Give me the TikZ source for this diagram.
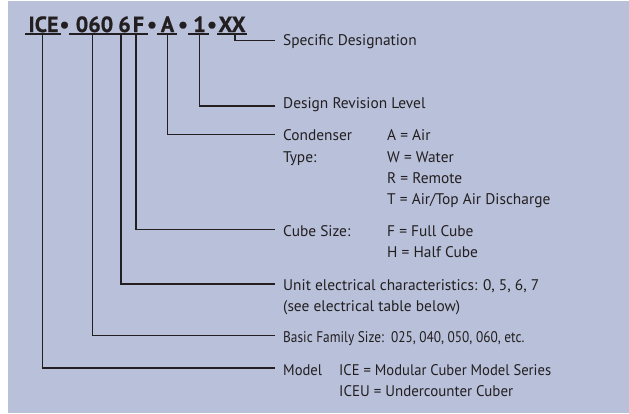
\documentclass[tikz,border=0pt]{standalone}
\usepackage{fontspec}
\setmainfont{PT Sans}
\newfontfamily\ttlfont[FakeBold=0.8]{PT Sans Bold}
\definecolor{panel}{RGB}{184,192,218}
\definecolor{ink}{RGB}{35,31,32}
\begin{document}
\begin{tikzpicture}[x=1pt,y=-1pt,
  lbl/.style={anchor=base west,inner sep=0pt,text=ink,font=\fontsize{15.4}{17}\selectfont},
  ttl/.style={anchor=base,inner sep=0pt,text=ink,font=\ttlfont\fontsize{22}{24}\selectfont},
  conn/.style={draw=ink,line width=1.3pt},
  uline/.style={draw=ink,line width=1.6pt}]
\useasboundingbox (0,0) rectangle (629,413);
\fill[panel] (8,1) rectangle (629,413);
% title
\node[ttl] (tI) at (43.5,32) {ICE};
\node[ttl] (d1) at (64.5,32) {•};
\node[ttl] (t060) at (94.5,32) {060};
\node[ttl] (t6) at (124.5,32) {6};
\node[ttl] (tF) at (138.5,32) {F};
\node[ttl] (d2) at (152,32) {•};
\node[ttl] (tA) at (167.5,32) {A};
\node[ttl] (d3) at (183,32) {•};
\node[ttl] (t1) at (199.5,32) {1};
\node[ttl] (d4) at (212,32) {•};
\node[ttl] (tX) at (232,32) {XX};
% underlines
\draw[uline] (25,33.8) -- (61,33.8);
\draw[uline] (69,33.8) -- (148,33.8);
\draw[uline] (157,33.8) -- (177,33.8);
\draw[uline] (188,33.8) -- (209,33.8);
\draw[uline] (217,33.8) -- (247,33.8);
% labels
\node[lbl] (spec) at (283,45) {Specific Designation};
\node[lbl] (rev) at (283,108) {Design Revision Level};
\node[lbl] (cond) at (283,140) {Condenser};
\node[lbl] (type) at (283,162) {Type:};
\node[lbl] (cA) at (387,140) {A = Air};
\node[lbl] (cW) at (387,162) {W = Water};
\node[lbl] (cR) at (387,183) {R = Remote};
\node[lbl] (cT) at (387,204) {T = Air/Top Air Discharge};
\node[lbl] (cube) at (283,236) {Cube Size:};
\node[lbl] (cF) at (387,236) {F = Full Cube};
\node[lbl] (cH) at (387,257.5) {H = Half Cube};
\node[lbl] (unit) at (283,290.5) {Unit electrical characteristics: 0, 5, 6, 7};
\node[lbl] (see) at (283,311) {(see electrical table below)};
\node[lbl] (basic) at (283,342.7) {\scalebox{0.865}[1]{Basic Family Size:\ \ 025, 040, 050, 060, etc.}};
\node[lbl] (model) at (283,375.7) {\scalebox{0.95}[1]{Model}};
\node[lbl] (m1) at (339,375.7) {\scalebox{0.95}[1]{ICE = Modular Cuber Model Series}};
\node[lbl] (m2) at (339,396) {\scalebox{0.97}[1]{ICEU = Undercounter Cuber}};
% connector tops and ends
\coordinate (cI) at (42.3,34);
\coordinate (c060) at (92.3,34);
\coordinate (c6) at (121,34);
\coordinate (cFF) at (136,34);
\coordinate (cAA) at (167.7,34);
\coordinate (c1) at (199.3,34);
\coordinate (cX) at (235,34);
\coordinate (eSpec) at (275,40.7);
\coordinate (eRev) at (275,106);
\coordinate (eCond) at (275,134.7);
\coordinate (eCube) at (275,229.7);
\coordinate (eUnit) at (275,284);
\coordinate (eBasic) at (275,335.7);
\coordinate (eModel) at (275,368);
\draw[conn] (cX) |- (eSpec);
\draw[conn] (c1) |- (eRev);
\draw[conn] (cAA) |- (eCond);
\draw[conn] (cFF) |- (eCube);
\draw[conn] (c6) |- (eUnit);
\draw[conn] (c060) |- (eBasic);
\draw[conn] (cI) |- (eModel);
\end{tikzpicture}
\end{document}
